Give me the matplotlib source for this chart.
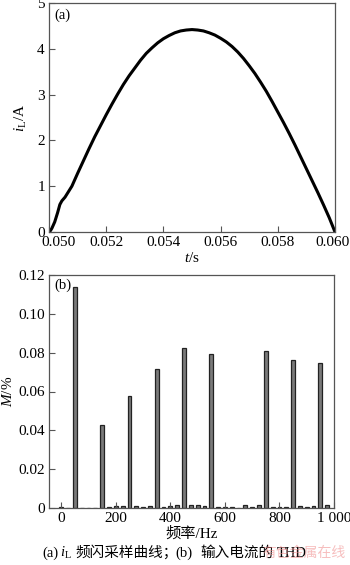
import matplotlib
matplotlib.use("Agg")
import matplotlib.pyplot as plt
import matplotlib.transforms as mtransforms

plt.rcParams['font.family'] = ['Liberation Serif', 'Noto Sans CJK SC', 'DejaVu Sans']
plt.rcParams['mathtext.fontset'] = 'custom'
plt.rcParams['mathtext.rm'] = 'Liberation Serif'
plt.rcParams['mathtext.it'] = 'Liberation Serif:italic'

# ---- data (a): inductor current samples ----
t_s = [0.05000, 0.05005, 0.05010, 0.05020, 0.05030, 0.05038, 0.05045, 0.05056,
       0.05070, 0.05080, 0.05100, 0.05120, 0.05140, 0.05160, 0.05180,
       0.05200, 0.05220, 0.05240, 0.05260, 0.05280, 0.05300, 0.05320, 0.05340,
       0.05360, 0.05380, 0.05400, 0.05420, 0.05440, 0.05460, 0.05480, 0.05500,
       0.05520, 0.05540, 0.05560, 0.05580, 0.05600, 0.05620, 0.05640, 0.05660,
       0.05680, 0.05700, 0.05720, 0.05740, 0.05760, 0.05780, 0.05800, 0.05820,
       0.05840, 0.05860, 0.05880, 0.05900, 0.05920, 0.05940, 0.05960, 0.05980,
       0.06000]
i_L = [0.00, 0.03, 0.08, 0.22, 0.42, 0.60, 0.68, 0.76,
       0.90, 1.00, 1.28, 1.55, 1.82, 2.08, 2.32,
       2.56, 2.79, 3.01, 3.22, 3.41, 3.58, 3.75, 3.90,
       4.02, 4.13, 4.22, 4.29, 4.35, 4.39, 4.41, 4.42,
       4.41, 4.39, 4.35, 4.30, 4.23, 4.15, 4.05, 3.93,
       3.79, 3.63, 3.46, 3.27, 3.07, 2.85, 2.62, 2.39,
       2.15, 1.90, 1.64, 1.38, 1.12, 0.86, 0.59, 0.31,
       0.00]

# ---- data (b): harmonic spectrum ----
freq_hz = [0, 25, 50, 75, 100, 125, 150, 175, 200, 225, 250, 275, 300, 325, 350,
           375, 400, 425, 450, 475, 500, 525, 550, 575, 600, 625, 650, 675, 700,
           725, 750, 775, 800, 825, 850, 875, 900, 925, 950, 975]
mag_pct = [0.0005, 0.0, 0.114, 0.0, 0.0, 0.0, 0.0425, 0.0006, 0.0008, 0.001, 0.0575,
           0.0008, 0.0003, 0.001, 0.0717, 0.0003, 0.0008, 0.0013, 0.0826, 0.0015,
           0.0013, 0.0008, 0.0793, 0.0005, 0.0006, 0.0003, 0.0, 0.0013, 0.0005,
           0.0013, 0.0811, 0.0005, 0.0006, 0.0005, 0.0761, 0.0012, 0.0003, 0.0012,
           0.0746, 0.0017]

xt_a = [0.050, 0.052, 0.054, 0.056, 0.058, 0.060]
xt_a_lbl = ['0.050', '0.052', '0.054', '0.056', '0.058', '0.060']
yt_a = [0, 1, 2, 3, 4, 5]
xt_b = [0, 200, 400, 600, 800, 1000]
xt_b_lbl = ['0', '200', '400', '600', '800', '1 000']
yt_b = [0, 0.02, 0.04, 0.06, 0.08, 0.10, 0.12]
yt_b_lbl = ['0', '0.02', '0.04', '0.06', '0.08', '0.10', '0.12']

W, H = 350, 565
fig = plt.figure(figsize=(W / 100, H / 100), dpi=100)
fig.patch.set_facecolor('white')

def box(l, t, r, b):
    return [l / W, 1 - b / H, (r - l) / W, (b - t) / H]

FS = 11
frame_c = '#555555'

def style(ax):
    for s in ax.spines.values():
        s.set_linewidth(0.9)
        s.set_color(frame_c)
    ax.tick_params(direction='in', length=4, width=0.8, color=frame_c,
                   labelsize=FS, pad=3, top=False, right=False)

# (a)
ax1 = fig.add_axes(box(49, 3, 335, 232))
ax1.plot(t_s, i_L, color='black', lw=2.2, solid_capstyle='round',
         solid_joinstyle='round')
ax1.set_xlim(0.0500, 0.0600)
ax1.set_ylim(0, 5)
ax1.set_xticks(xt_a)
ax1.set_xticklabels(xt_a_lbl)
ax1.set_yticks(yt_a)
style(ax1)
off = mtransforms.ScaledTranslation(9 / 100, 0, fig.dpi_scale_trans)
lbl0 = ax1.get_xticklabels()[0]
lbl0.set_transform(lbl0.get_transform() + off)
offr = mtransforms.ScaledTranslation(-2 / 100, 0, fig.dpi_scale_trans)
lblr = ax1.get_xticklabels()[-1]
lblr.set_transform(lblr.get_transform() + offr)
ax1.set_xlabel(r'$t$/s', fontsize=FS, labelpad=1)
ax1.set_ylabel(r'$i_{\mathrm{L}}$/A', fontsize=FS, labelpad=6)
ax1.text(0.02, 0.975, '(a)', transform=ax1.transAxes, fontsize=FS - 0.5,
         ha='left', va='top')

# (b)
ax2 = fig.add_axes(box(49, 275, 334, 508))
ax2.bar(freq_hz, mag_pct, width=14, color='#7a7a7a', edgecolor='#222222',
        linewidth=0.9)
ax2.set_xlim(-45, 1000)
ax2.set_ylim(0, 0.12)
ax2.set_xticks(xt_b)
ax2.set_xticklabels(xt_b_lbl)
ax2.set_yticks(yt_b)
ax2.set_yticklabels(yt_b_lbl)
style(ax2)
ax2.set_xlabel('频率/Hz', fontsize=FS, labelpad=1)
ax2.set_ylabel(r'$M$/%', fontsize=FS, labelpad=2)
ax2.text(0.02, 0.985, '(b)', transform=ax2.transAxes, fontsize=FS - 0.5,
         ha='left', va='top')

# caption (pieces so CJK fallback works) and watermark
yb = 1 - 557 / H
cap = dict(va='baseline', ha='left', fontsize=10.5)
fig.text(42 / W, yb, '(a)', **cap)
fig.text(60 / W, yb, r'$i_{\mathrm{L}}$', **cap)
fig.text(75 / W, yb, '频闪采样曲线；', family=['Noto Sans CJK SC'], **cap)
fig.text(175 / W, yb, '(b)', **cap)
fig.text(200 / W, yb, '输入电流的', family=['Noto Sans CJK SC'], **cap)
fig.text(277 / W, yb, 'THD', **cap)
fig.text(262 / W, yb, '有色金属在线', ha='left', va='baseline',
         fontsize=10, color='#f08a8a', alpha=0.55,
         family=['Noto Sans CJK SC'])

fig.savefig('out.png', dpi=100, facecolor='white')
